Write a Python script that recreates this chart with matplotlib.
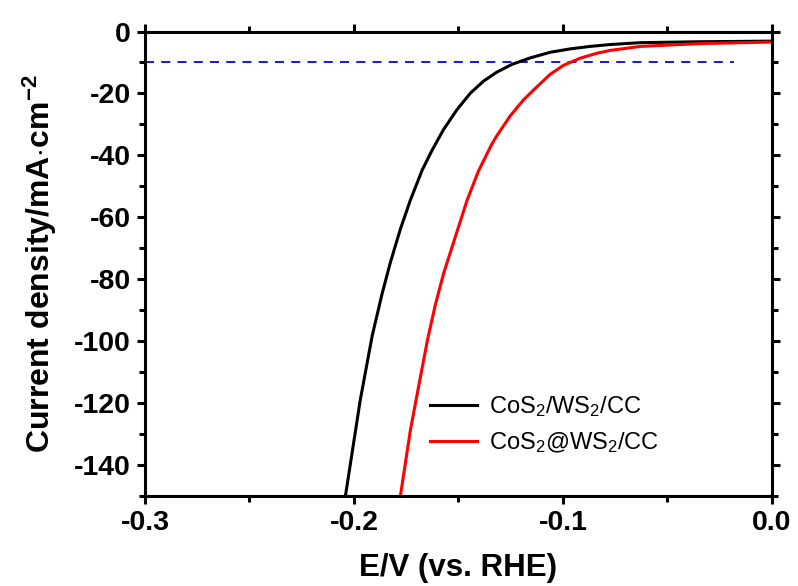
import matplotlib
matplotlib.use("Agg")
import matplotlib.pyplot as plt
from matplotlib.ticker import MultipleLocator

plt.rcParams['font.family'] = ['Liberation Sans', 'DejaVu Sans']
plt.rcParams['mathtext.fontset'] = 'custom'
plt.rcParams['mathtext.rm'] = 'Liberation Sans'
plt.rcParams['mathtext.bf'] = 'Liberation Sans:bold'
plt.rcParams['mathtext.default'] = 'regular'

# CoS2/WS2/CC (black)
x_black = [-0.2041, -0.1970, -0.1913, -0.1866, -0.1826, -0.1778, -0.1730, -0.1674,
           -0.1627, -0.1571, -0.1507, -0.1443, -0.1380, -0.1316, -0.1244, -0.1156,
           -0.1061, -0.0965, -0.0869, -0.0774, -0.0630, -0.0343, 0.0]
y_black = [-150, -119.0, -98.3, -84.8, -74.6, -63.8, -54.4, -44.8,
           -38.4, -31.6, -25.2, -19.9, -16.0, -13.1, -10.6, -8.5,
           -6.7, -5.6, -4.8, -4.2, -3.6, -3.3, -3.1]

# CoS2@WS2/CC (red)
x_red = [-0.1778, -0.1730, -0.1682, -0.1648, -0.1611, -0.1571, -0.1515, -0.1459,
         -0.1404, -0.1340, -0.1316, -0.1252, -0.1188, -0.1124, -0.1061, -0.0997,
         -0.0917, -0.0837, -0.0774, -0.0630, -0.0343, 0.0]
y_red = [-150, -128.7, -111.5, -99.5, -88.3, -78.1, -66.3, -54.5,
         -45.0, -36.3, -33.6, -27.2, -22.0, -17.8, -13.8, -10.9,
         -8.6, -7.0, -6.1, -4.8, -3.9, -3.4]

ref_y = -10
ref_x = [-0.3, -0.018]

labels = ['CoS$_2$/WS$_2$/CC', 'CoS$_2$@WS$_2$/CC']

fig = plt.figure(figsize=(7.98, 5.86), dpi=100)
ax = fig.add_axes([0.1817, 0.1536, 0.9674 - 0.1817, 0.9462 - 0.1536])

ax.plot(ref_x, [ref_y, ref_y], color='blue', lw=1.3, ls=(0, (5, 4)))
ax.plot(x_black, y_black, color='black', lw=2.2, label=labels[0], solid_joinstyle='round')
ax.plot(x_red, y_red, color='red', lw=2.2, label=labels[1], solid_joinstyle='round')

ax.set_xlim(-0.3, 0.0)
ax.set_ylim(-150, 0)
ax.xaxis.set_minor_locator(MultipleLocator(0.05))
ax.yaxis.set_minor_locator(MultipleLocator(10))
ax.set_xticks([-0.3, -0.2, -0.1, 0.0])
ax.set_xticklabels(['-0.3', '-0.2', '-0.1', '0.0'])
ax.set_yticks([0, -20, -40, -60, -80, -100, -120, -140])
ax.set_yticklabels(['0', '-20', '-40', '-60', '-80', '-100', '-120', '-140'])

for s in ax.spines.values():
    s.set_linewidth(2.2)
ax.tick_params(which='major', direction='out', length=6, width=2.2, labelsize=20.5, pad=4)
ax.tick_params(which='minor', direction='out', length=4, width=2.2)
ax.tick_params(which='both', top=True, right=True)
for lab in ax.get_xticklabels() + ax.get_yticklabels():
    lab.set_fontweight('bold')
ax.tick_params(axis='x', which='both', labeltop=False)
ax.tick_params(axis='y', which='both', labelright=False)

ax.set_xlabel('E/V (vs. RHE)', fontsize=22.5, fontweight='bold', labelpad=12)
ax.set_ylabel('Current density/mA$\\mathbf{\\cdot}$cm$^{\\mathbf{-2}}$', fontsize=23,
              fontweight='bold', labelpad=11)

leg = ax.legend(loc='lower left', bbox_to_anchor=(0.42, 0.043), frameon=False,
                fontsize=17, handlelength=2.0, handletextpad=0.5, labelspacing=0.45)

fig.savefig('out.png', dpi=100)
